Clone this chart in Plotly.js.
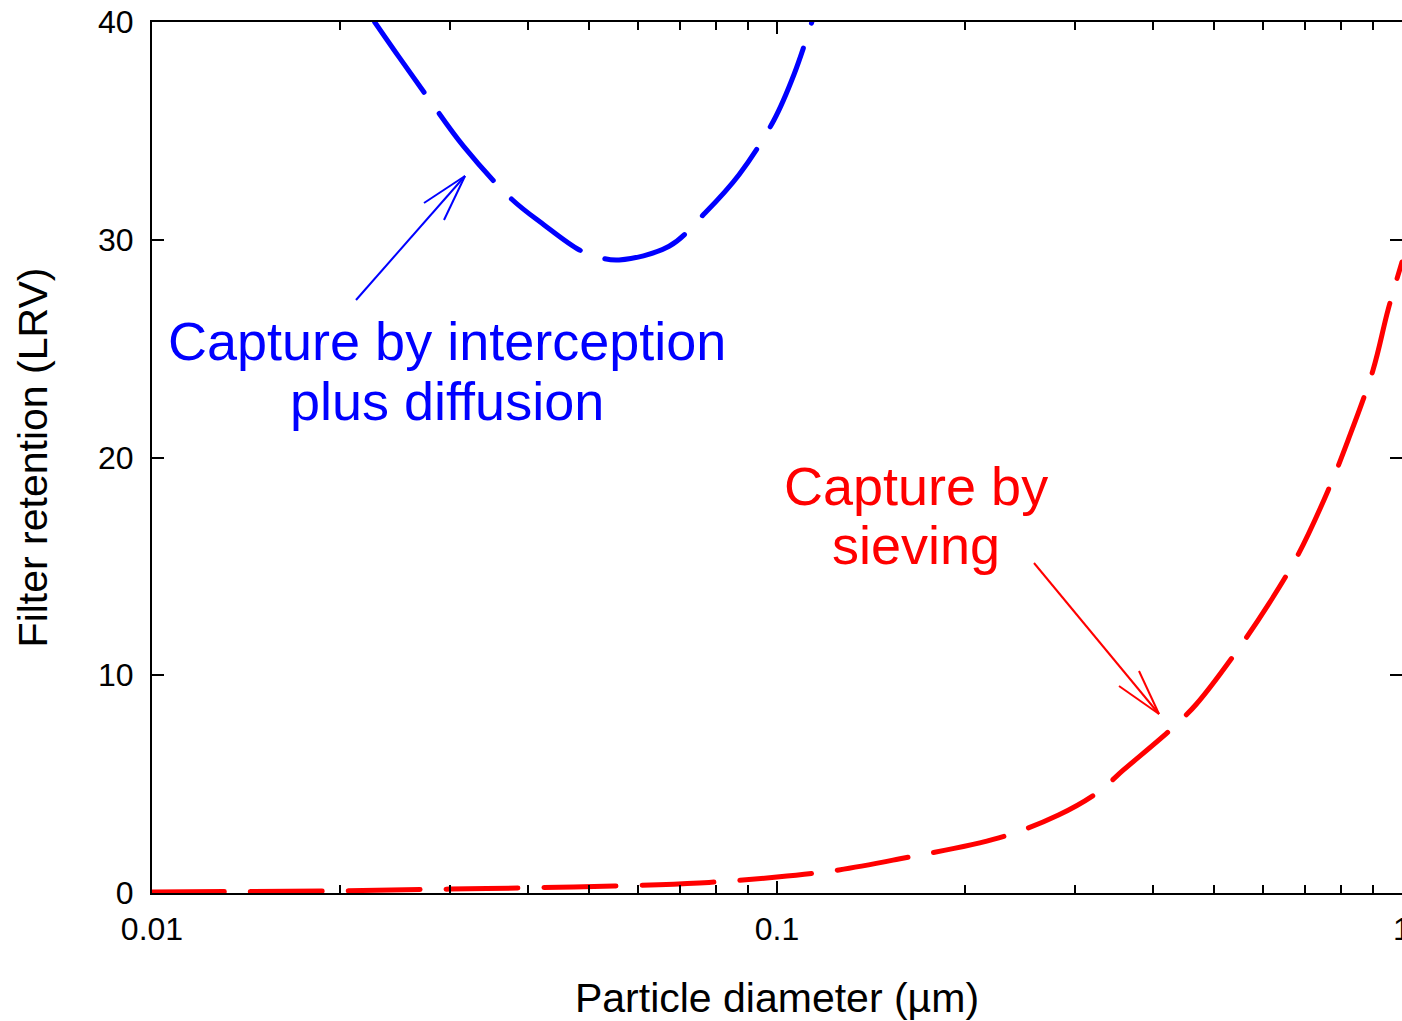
<!DOCTYPE html>
<html>
<head>
<meta charset="utf-8">
<script src="https://cdn.plot.ly/plotly-3.0.1.min.js"></script>
<style>
  html, body { margin: 0; padding: 0; background: #fff; }
  #chart { width: 1402px; height: 1021px; }
  .js-line { stroke-linecap: round; stroke-linejoin: round; }
</style>
</head>
<body>
<div id="chart"></div>
<script>
// Particle diameter (µm) and filter retention (LRV)
var diffusionX = [0.02271, 0.0249, 0.0278, 0.0315, 0.0376, 0.0424, 0.0483, 0.0521, 0.0559, 0.0672, 0.0767, 0.0870, 0.0989, 0.1065, 0.1137];
var diffusionY = [40.0, 38.35, 36.42, 34.3, 31.87, 30.68, 29.53, 29.18, 29.07, 29.7, 31.23, 33.0, 35.5, 37.6, 40.0];

var sievingX = [0.01, 0.02, 0.0299, 0.0387, 0.0549, 0.0751, 0.1, 0.1256, 0.1566, 0.2264, 0.2821, 0.3268, 0.3584, 0.426, 0.469, 0.547, 0.611, 0.6823, 0.7619, 0.8199, 0.8988, 0.9497, 1.0];
var sievingY = [0.05, 0.1, 0.18, 0.23, 0.32, 0.46, 0.73, 1.06, 1.56, 2.53, 3.58, 4.64, 5.65, 7.49, 8.68, 11.2, 13.24, 15.55, 18.5, 20.8, 24.02, 26.77, 28.98];

var xTickVals = [0.01, 0.1, 1];
var xTickText = ['0.01', '0.1', '1'];
var xMinorVals = [0.02, 0.03, 0.04, 0.05, 0.06, 0.07, 0.08, 0.09, 0.2, 0.3, 0.4, 0.5, 0.6, 0.7, 0.8, 0.9];
var yTickVals = [0, 10, 20, 30, 40];

var labelDiffusion = ['Capture by interception', 'plus diffusion'];
var labelSieving = ['Capture by', 'sieving'];

var FONT = 'Liberation Sans, Arial, Helvetica, sans-serif';
var BLUE = '#0000ff';
var RED = '#ff0000';

var traces = [
  {
    x: diffusionX, y: diffusionY, type: 'scatter', mode: 'lines',
    line: { color: BLUE, width: 5, dash: '86px,26px', shape: 'spline', smoothing: 1 },
    hoverinfo: 'skip', showlegend: false
  },
  {
    x: sievingX, y: sievingY, type: 'scatter', mode: 'lines',
    line: { color: RED, width: 5, dash: '72px,26px', shape: 'spline', smoothing: 1 },
    hoverinfo: 'skip', showlegend: false
  }
];

function px2paperX(px) { return (px - 152) / 1250; }
function px2paperY(py) { return (893 - py) / 871; }

function arrowShapes(tail, tip, b1, b2, color) {
  var l = { color: color, width: 2 };
  function seg(a, b) {
    return { type: 'line', xref: 'paper', yref: 'paper',
      x0: px2paperX(a[0]), y0: px2paperY(a[1]), x1: px2paperX(b[0]), y1: px2paperY(b[1]), line: l };
  }
  return [seg(tail, tip), seg(b1, tip), seg(b2, tip)];
}

var shapes = []
  .concat(arrowShapes([356, 300], [465, 176], [424, 203], [444, 220], BLUE))
  .concat(arrowShapes([1034, 563], [1159, 714], [1119, 686], [1139, 671], RED));

function label(text, px, py, color) {
  return { text: text, xref: 'paper', yref: 'paper', x: px2paperX(px), y: px2paperY(py),
    xanchor: 'center', yanchor: 'middle', showarrow: false,
    font: { family: FONT, size: 54, color: color } };
}

var annotations = [
  label(labelDiffusion[0], 447, 341, BLUE),
  label(labelDiffusion[1], 447, 401, BLUE),
  label(labelSieving[0], 916, 486, RED),
  label(labelSieving[1], 916, 545, RED)
];

var layout = {
  width: 1402, height: 1021,
  margin: { l: 152, r: 0, t: 22, b: 128, pad: 0 },
  paper_bgcolor: '#ffffff', plot_bgcolor: '#ffffff',
  font: { family: FONT, color: '#000' },
  showlegend: false,
  xaxis: {
    type: 'log', range: [-2, 0],
    tickvals: xTickVals, ticktext: xTickText,
    ticks: 'inside', ticklen: 12, tickwidth: 2, tickcolor: '#000',
    minor: { tickvals: xMinorVals, ticks: 'inside', ticklen: 8, tickwidth: 2, tickcolor: '#000', showgrid: false },
    showline: true, linecolor: '#000', linewidth: 2, mirror: 'ticks',
    showgrid: false, zeroline: false,
    tickfont: { family: FONT, size: 32, color: '#000' },
    ticklabelstandoff: 7,
    ticklabeloverflow: 'allow',
    title: { text: 'Particle diameter (µm)', font: { family: FONT, size: 41, color: '#000' }, standoff: 38 }
  },
  yaxis: {
    range: [0, 40], tickvals: yTickVals,
    ticks: 'inside', ticklen: 12, tickwidth: 2, tickcolor: '#000',
    showline: true, linecolor: '#000', linewidth: 2, mirror: 'ticks',
    showgrid: false, zeroline: false,
    tickfont: { family: FONT, size: 32, color: '#000' },
    ticklabelstandoff: 10,
    title: { text: 'Filter retention (LRV)', font: { family: FONT, size: 41, color: '#000' }, standoff: 38 }
  },
  shapes: shapes,
  annotations: annotations
};

Plotly.newPlot('chart', traces, layout, { displayModeBar: false, staticPlot: true });
</script>
</body>
</html>
